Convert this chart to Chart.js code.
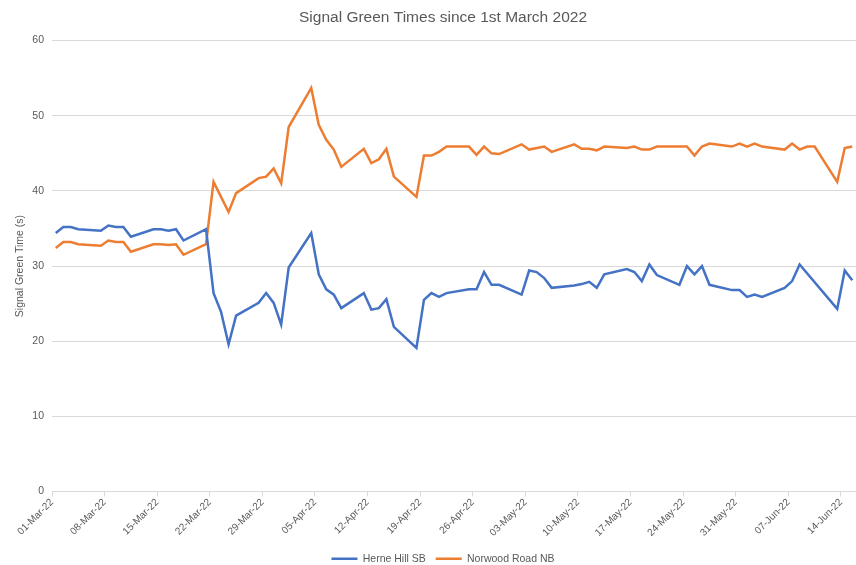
<!DOCTYPE html>
<html>
<head>
<meta charset="utf-8">
<script src="https://cdn.jsdelivr.net/npm/chart.js@4/dist/chart.umd.min.js"></script>
<style>
  html, body { margin: 0; padding: 0; background: #fff; }
  #wrap { width: 856px; height: 565px; }
</style>
</head>
<body>
<div id="wrap"><canvas id="signal-chart"></canvas></div>
<script>
// weekday readings (gaps are spanned by a straight line)
const dates = [
  "2022-03-01", "2022-03-02", "2022-03-03", "2022-03-04", "2022-03-07", "2022-03-08", "2022-03-09", "2022-03-10", "2022-03-11",
  "2022-03-14", "2022-03-15", "2022-03-16", "2022-03-17", "2022-03-18", "2022-03-21", "2022-03-22", "2022-03-23", "2022-03-24",
  "2022-03-25", "2022-03-28", "2022-03-29", "2022-03-30", "2022-03-31", "2022-04-01", "2022-04-04", "2022-04-05", "2022-04-06",
  "2022-04-07", "2022-04-08", "2022-04-11", "2022-04-12", "2022-04-13", "2022-04-14", "2022-04-15", "2022-04-18", "2022-04-19",
  "2022-04-20", "2022-04-21", "2022-04-22", "2022-04-25", "2022-04-26", "2022-04-27", "2022-04-28", "2022-04-29", "2022-05-02",
  "2022-05-03", "2022-05-04", "2022-05-05", "2022-05-06", "2022-05-09", "2022-05-10", "2022-05-11", "2022-05-12", "2022-05-13",
  "2022-05-16", "2022-05-17", "2022-05-18", "2022-05-19", "2022-05-20", "2022-05-23", "2022-05-24", "2022-05-25", "2022-05-26",
  "2022-05-27", "2022-05-30", "2022-05-31", "2022-06-01", "2022-06-02", "2022-06-03", "2022-06-06", "2022-06-07", "2022-06-08",
  "2022-06-09", "2022-06-10", "2022-06-13", "2022-06-14", "2022-06-15"
];

const herneHill = [
  34.4, 35.2, 35.2, 34.9, 34.7, 35.4, 35.2, 35.2, 33.9,
  34.9, 34.9, 34.7, 34.9, 33.4, 34.9, 26.4, 23.9, 19.6,
  23.4, 25.1, 26.4, 25.1, 22.2, 29.8, 34.4, 28.9, 26.9,
  26.2, 24.4, 26.4, 24.2, 24.4, 25.6, 21.9, 19.1, 25.5,
  26.4, 25.9, 26.4, 26.9, 26.9, 29.2, 27.5, 27.5, 26.2,
  29.4, 29.2, 28.4, 27.1, 27.4, 27.6, 27.9, 27.1, 28.9,
  29.6, 29.2, 28.0, 30.2, 28.8, 27.5, 30.0, 28.9, 30.0,
  27.5, 26.8, 26.8, 25.9, 26.2, 25.9, 27.1, 28.0, 30.2,
  null, null, 24.3, 29.4, 28.1
];

const norwoodRoad = [
  32.4, 33.2, 33.2, 32.9, 32.7, 33.4, 33.2, 33.2, 31.9,
  32.9, 32.9, 32.8, 32.9, 31.5, 32.9, 41.2, null, 37.2,
  39.7, 41.7, 41.9, 43.0, 41.0, 48.5, 53.7, 48.8, 46.8,
  45.5, 43.2, 45.6, 43.7, 44.2, 45.6, 41.9, 39.2, 44.7,
  44.7, 45.2, 45.9, 45.9, 44.8, 45.9, 45.0, 44.9, 46.2,
  45.5, null, 45.9, 45.2, 46.2, 45.6, 45.6, 45.4, 45.9,
  45.7, 45.9, 45.5, 45.5, 45.9, null, 45.9, 44.7, 45.9,
  46.3, 45.9, 46.3, 45.9, 46.3, 45.9, 45.5, 46.3, 45.5,
  45.9, 45.9, 41.2, 45.7, 45.9
];

const tickLabels = [
  "01-Mar-22", "08-Mar-22", "15-Mar-22", "22-Mar-22", "29-Mar-22", "05-Apr-22", "12-Apr-22", "19-Apr-22",
  "26-Apr-22", "03-May-22", "10-May-22", "17-May-22", "24-May-22", "31-May-22", "07-Jun-22", "14-Jun-22"
];

const start = Date.UTC(2022, 2, 1);
const dayOf = (d) => Math.round((Date.parse(d + "T00:00:00Z") - start) / 864e5);
const toPoints = (vals) => dates.map((d, i) => ({ x: dayOf(d), y: vals[i] }));

const grey = "#595959";
Chart.defaults.font.family = "'Liberation Sans', Arial, sans-serif";
Chart.defaults.color = grey;

new Chart(document.getElementById("signal-chart"), {
  type: "line",
  data: {
    datasets: [
      {
        label: "Herne Hill SB",
        data: toPoints(herneHill),
        borderColor: "#4472C4",
        backgroundColor: "#4472C4",
        borderWidth: 2.5,
        pointRadius: 0,
        tension: 0,
        spanGaps: true,
      },
      {
        label: "Norwood Road NB",
        data: toPoints(norwoodRoad),
        borderColor: "#ED7D31",
        backgroundColor: "#ED7D31",
        borderWidth: 2.5,
        pointRadius: 0,
        tension: 0,
        spanGaps: true,
      },
    ],
  },
  options: {
    responsive: true,
    maintainAspectRatio: false,
    animation: false,
    // the original chart was cropped on the right, so everything centres a bit right of the middle
    layout: { padding: { left: 30, right: 0, top: 0, bottom: -9 } },
    plugins: {
      title: {
        display: true,
        text: "Signal Green Times since 1st March 2022",
        color: grey,
        font: { size: 15.5, weight: "normal" },
        padding: { top: 8, bottom: 14 },
      },
      legend: {
        position: "bottom",
        labels: {
          usePointStyle: true,
          pointStyle: "line",
          pointStyleWidth: 26,
          font: { size: 10.5 },
          color: grey,
          padding: 10,
        },
      },
      tooltip: { enabled: false },
    },
    scales: {
      x: {
        type: "linear",
        min: -0.5,
        max: 106.5,
        afterBuildTicks: (scale) => {
          scale.ticks = tickLabels.map((_, i) => ({ value: i * 7 - 0.5 }));
        },
        afterFit: (scale) => { scale.height = 52; },
        ticks: {
          autoSkip: false,
          minRotation: 45,
          maxRotation: 45,
          font: { size: 10 },
          color: grey,
          padding: 0,
          callback: (v, i) => tickLabels[i],
        },
        grid: { drawOnChartArea: false, color: "#d9d9d9", tickLength: 5 },
        border: { color: "#d9d9d9" },
      },
      y: {
        min: 0,
        max: 60,
        ticks: { stepSize: 10, font: { size: 10.5 }, color: grey, padding: 8 },
        afterFit: (scale) => { scale.width = 22; },
        grid: { color: "#d9d9d9", drawTicks: false },
        border: { display: false },
        title: {
          display: true,
          text: "Signal Green Time (s)",
          color: grey,
          font: { size: 10.5 },
          padding: { top: -16, bottom: 0 },
        },
      },
    },
  },
});
</script>
</body>
</html>
